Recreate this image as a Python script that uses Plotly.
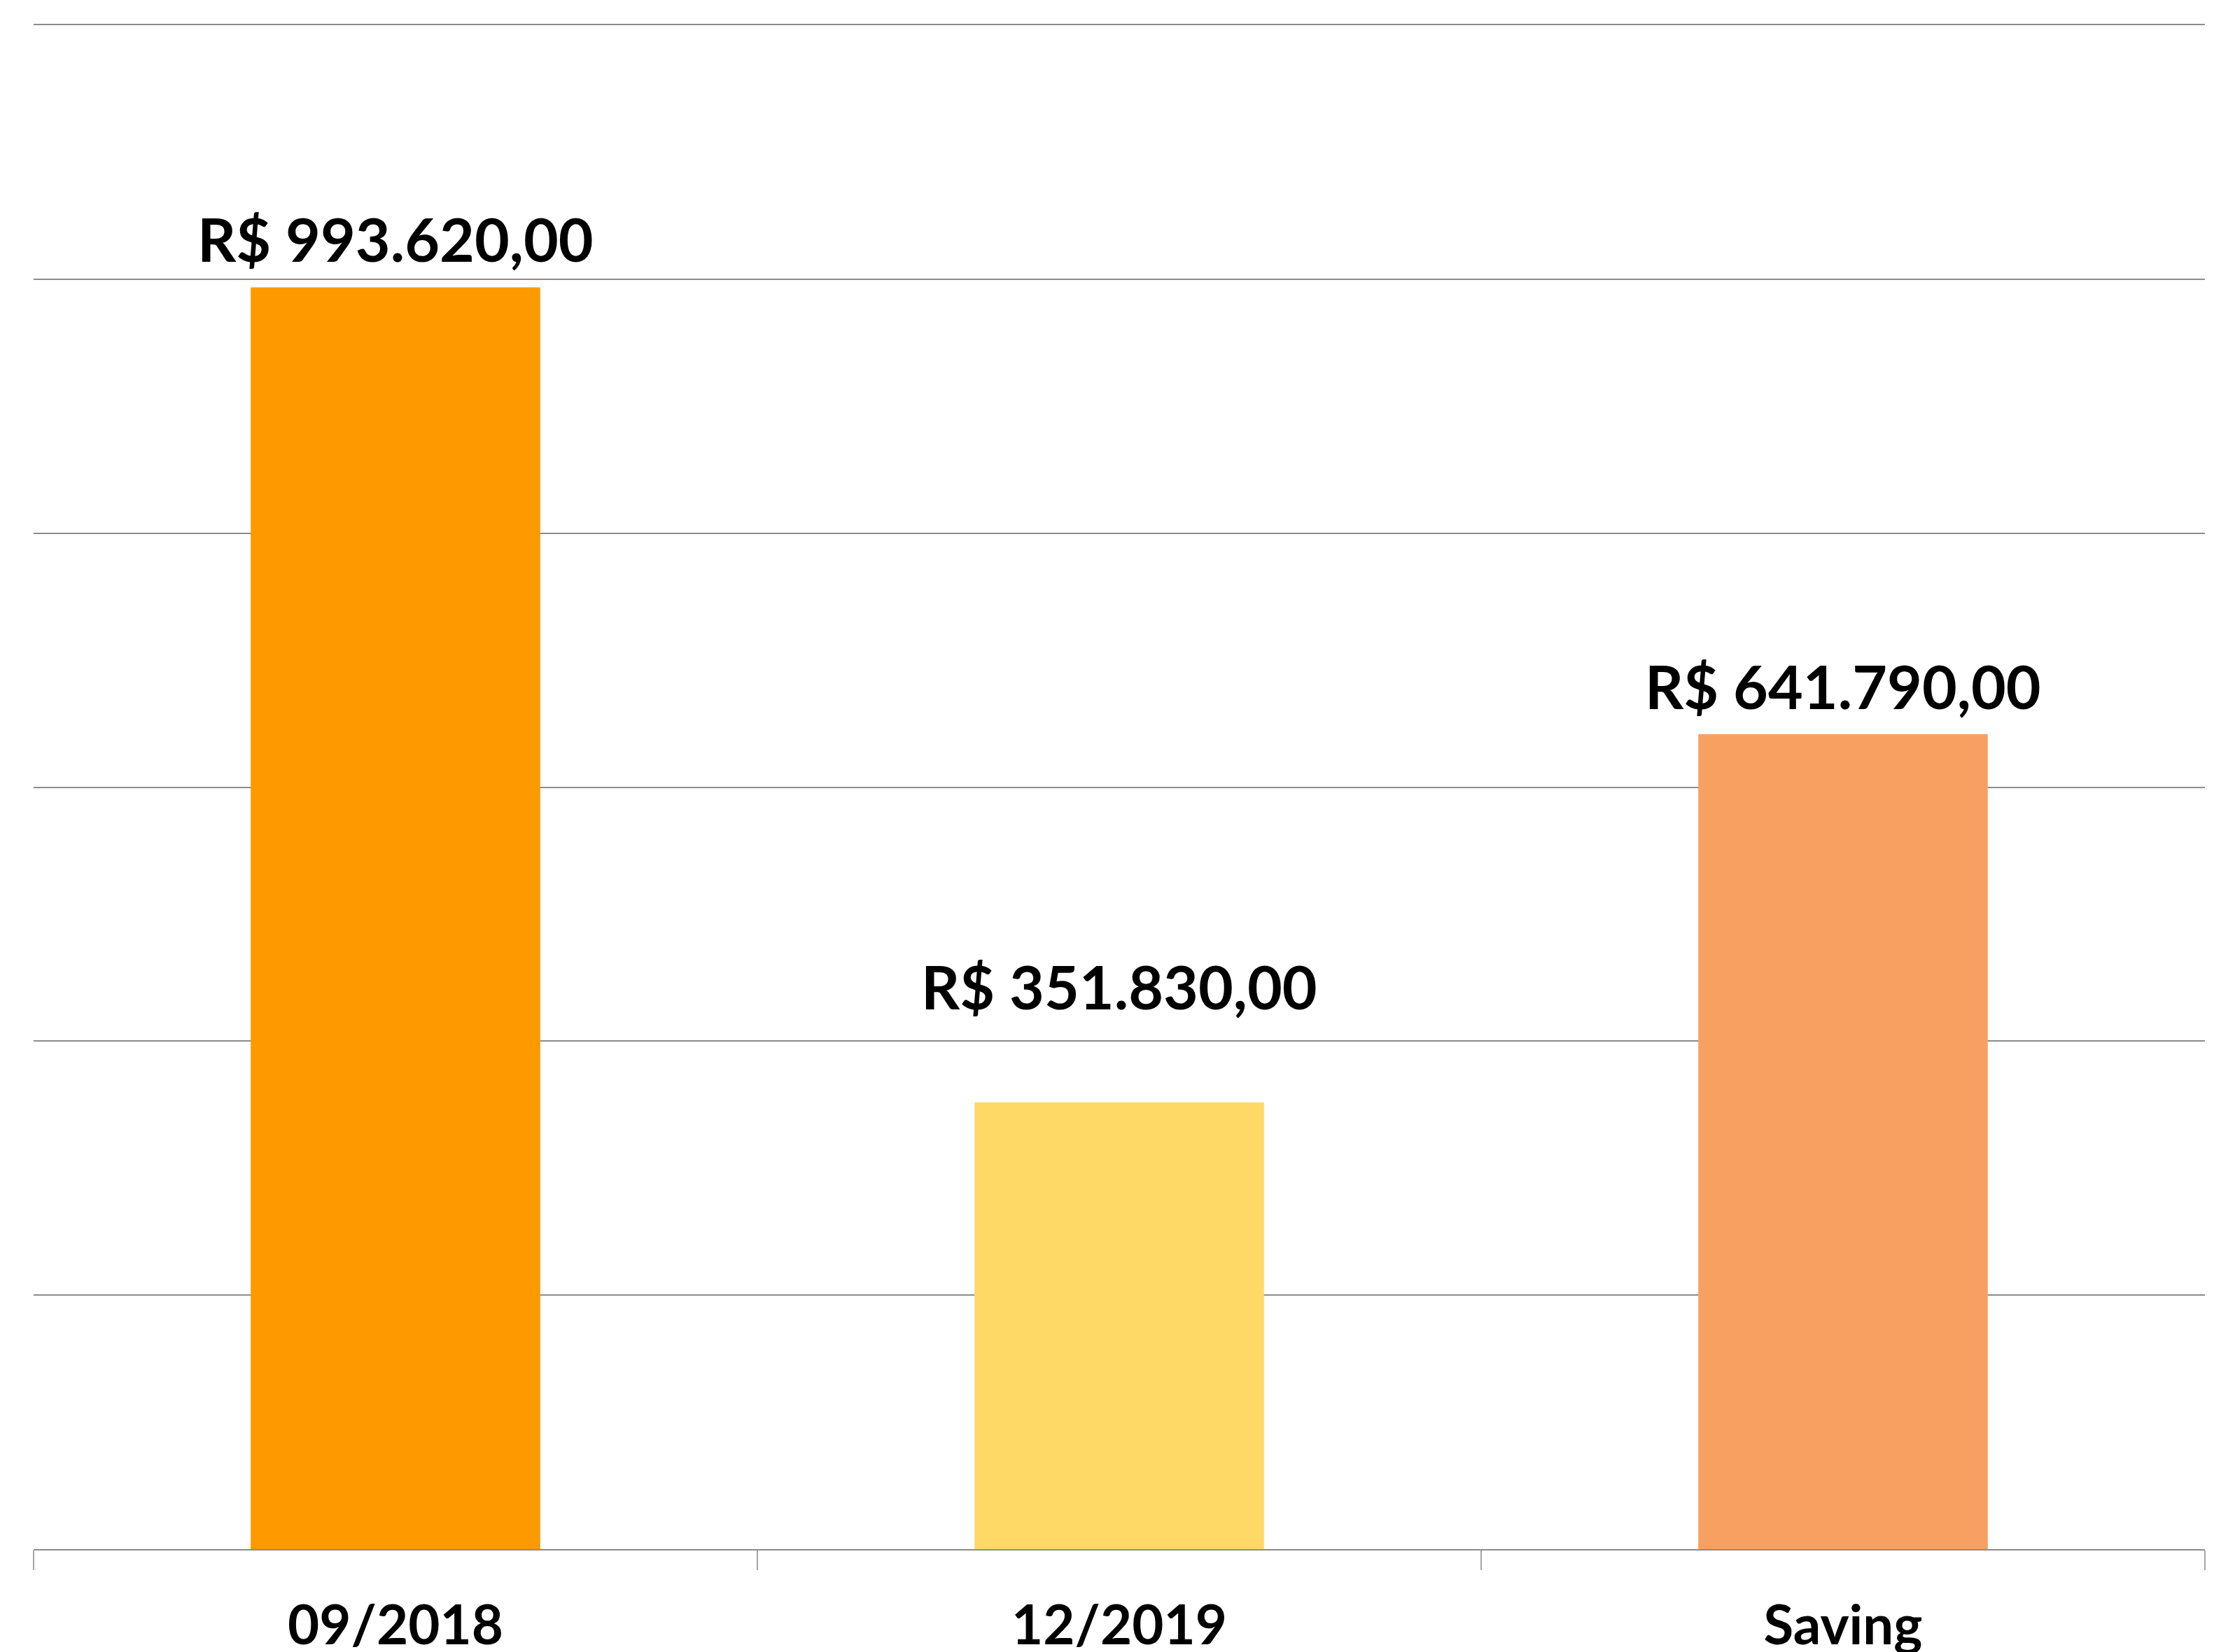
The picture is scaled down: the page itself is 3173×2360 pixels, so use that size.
import plotly.graph_objects as go

categories = ["09/2018", "12/2019", "Saving"]
values = [993620, 351830, 641790]
labels = ["R$ 993.620,00", "R$ 351.830,00", "R$ 641.790,00"]
colors = ["#FF9900", "#FFD966", "#F8A061"]
label_yshift = [16, 113, 16]  # pixel offsets of the data labels (style)

fig = go.Figure()
fig.add_trace(go.Bar(
    x=categories, y=values, marker=dict(color=colors, line=dict(width=0)),
    width=0.4, hoverinfo="x+y",
))
for c, v, t, s in zip(categories, values, labels, label_yshift):
    fig.add_annotation(x=c, y=v, text=t, showarrow=False, yanchor="bottom",
                       yshift=s,
                       font=dict(family="Lato", size=86, color="#000000", weight="bold"))

fig.update_layout(
    width=3173, height=2360,
    margin=dict(l=40, r=31, t=28, b=155),
    paper_bgcolor="white", plot_bgcolor="white",
    showlegend=False,
    font=dict(family="Lato"),
)
fig.update_yaxes(range=[0, 1200000], dtick=200000, showticklabels=False,
                 showgrid=True, gridcolor="#8C8C8C", gridwidth=2,
                 zeroline=False, showline=False)
fig.update_xaxes(showline=True, mirror=True, linecolor="#8C8C8C", linewidth=2,
                 ticks="outside", tickson="boundaries", ticklen=28,
                 tickcolor="#A6A6A6", tickwidth=2,
                 tickfont=dict(family="Lato", size=78, color="#000000", weight="bold"),
                 automargin=False, ticklabelstandoff=40)

fig.write_html("out.html")
